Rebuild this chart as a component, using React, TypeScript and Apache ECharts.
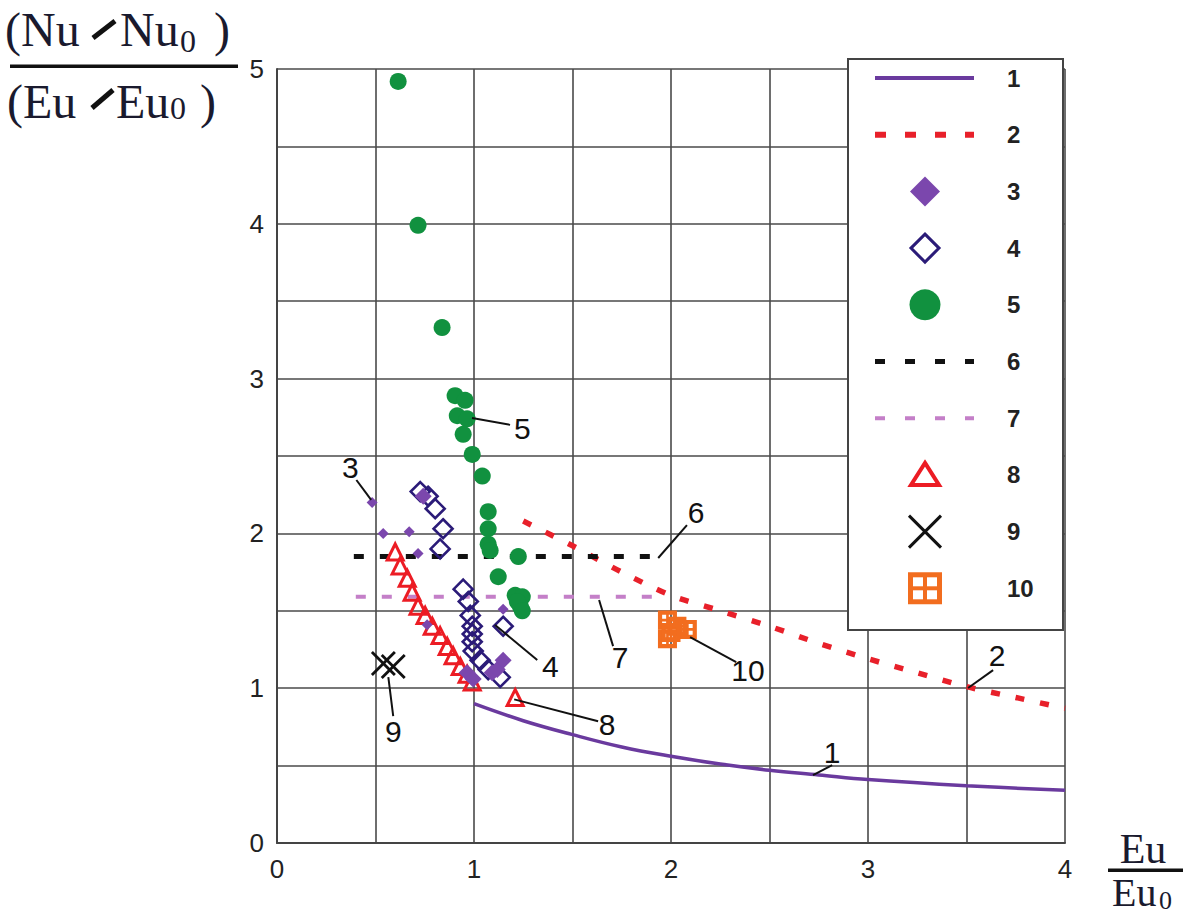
import React, { useEffect, useRef } from 'react';
import * as echarts from 'echarts';

const xTickLabels = [0, 1, 2, 3, 4];
const yTickLabels = [0, 1, 2, 3, 4, 5];

const line1Points = [[1.0, 0.9], [1.25, 0.79], [1.5, 0.7], [1.75, 0.62], [2.0, 0.56], [2.25, 0.51], [2.5, 0.47], [2.75, 0.44], [3.0, 0.41], [3.5, 0.37], [4.0, 0.34]];
const line2Points = [[1.25, 2.08], [1.5, 1.92], [1.75, 1.75], [2.0, 1.6], [2.25, 1.5], [2.5, 1.4], [2.75, 1.29], [3.0, 1.19], [3.25, 1.1], [3.5, 1.01], [3.75, 0.94], [4.0, 0.87]];
const series3Small = [[0.483, 2.2], [0.539, 2.0], [0.671, 2.01], [0.716, 1.87], [0.762, 1.41], [1.148, 1.51]];
const series3Large = [[0.742, 2.24], [0.965, 1.1], [0.996, 1.06], [1.092, 1.1], [1.118, 1.12], [1.148, 1.18]];
const series4Points = [[0.727, 2.27], [0.767, 2.24], [0.803, 2.16], [0.843, 2.03], [0.828, 1.9], [0.945, 1.64], [0.971, 1.56], [0.981, 1.47], [0.991, 1.4], [0.991, 1.35], [0.991, 1.3], [0.996, 1.24], [1.031, 1.18], [1.072, 1.12], [1.133, 1.07], [1.148, 1.4]];
const series5Points = [[0.615, 4.92], [0.716, 3.99], [0.838, 3.33], [0.904, 2.89], [0.955, 2.86], [0.915, 2.76], [0.965, 2.74], [0.945, 2.64], [0.991, 2.51], [1.042, 2.37], [1.072, 2.14], [1.072, 2.03], [1.072, 1.93], [1.082, 1.89], [1.225, 1.85], [1.123, 1.72], [1.209, 1.6], [1.245, 1.59], [1.235, 1.53], [1.22, 1.56], [1.245, 1.5]];
const line6Points = [[0.39, 1.85], [1.94, 1.85]];
const line7Points = [[0.4, 1.59], [1.93, 1.59]];
const series8Points = [[0.6, 1.88], [0.625, 1.79], [0.661, 1.71], [0.686, 1.62], [0.716, 1.53], [0.752, 1.47], [0.788, 1.4], [0.828, 1.34], [0.864, 1.27], [0.894, 1.21], [0.93, 1.14], [0.965, 1.09], [0.991, 1.04], [1.209, 0.94]];
const series9Points = [[0.54, 1.16], [0.59, 1.14]];
const series10Points = [[1.982, 1.44], [1.982, 1.32], [2.083, 1.38], [2.03, 1.4], [2.0, 1.36]];
const legendLabels = ['1', '2', '3', '4', '5', '6', '7', '8', '9', '10'];

// callout labels: text position and pointer line, in data coordinates
const callouts = [
  { text: '3', at: [0.372, 2.427], from: [0.403, 2.345], to: [0.478, 2.216] },
  { text: '5', at: [1.245, 2.68], from: [0.99, 2.746], to: [1.183, 2.701] },
  { text: '6', at: [2.127, 2.137], from: [1.935, 1.841], to: [2.081, 2.054] },
  { text: '7', at: [1.742, 1.201], from: [1.635, 1.57], to: [1.706, 1.272] },
  { text: '4', at: [1.387, 1.143], from: [1.107, 1.408], to: [1.321, 1.182] },
  { text: '10', at: [2.391, 1.117], from: [2.097, 1.33], to: [2.331, 1.169] },
  { text: '2', at: [3.655, 1.214], from: [3.508, 1.001], to: [3.635, 1.117] },
  { text: '8', at: [1.676, 0.768], from: [1.204, 0.928], to: [1.63, 0.786] },
  { text: '1', at: [2.818, 0.587], from: [2.721, 0.438], to: [2.818, 0.503] },
  { text: '9', at: [0.59, 0.723], from: [0.565, 1.072], to: [0.59, 0.82] },
];

const C1 = '#6a3a9e';
const C2 = '#e8202a';
const C3 = '#7b47ad';
const C4 = '#2b1b78';
const C5 = '#11913f';
const C6 = '#111111';
const C7 = '#c47fc8';
const C8 = '#ec1c24';
const C9 = '#111111';
const C10 = '#f26d1f';

const SQUARE_PATH = 'path://M0 0H10V10H0Z M2.2 2.2V4.3H4.3V2.2Z M5.7 2.2V4.3H7.8V2.2Z M2.2 5.7V7.8H4.3V5.7Z M5.7 5.7V7.8H7.8V5.7Z';
const CROSS_PATH = 'path://M0 0.8L0.8 0L5 4.2L9.2 0L10 0.8L5.8 5L10 9.2L9.2 10L5 5.8L0.8 10L0 9.2L4.2 5Z';

const SANS = '"Liberation Sans", Arial, sans-serif';
const SERIF = '"Liberation Serif", "Times New Roman", serif';
const TXT = '#1a1a2e';

function txt(text: string, x: number, y: number, size: number, opts: any = {}) {
  const align = opts.align || 'left';
  return {
    type: 'text',
    x,
    y,
    z: opts.z ?? 60,
    style: {
      text,
      fontSize: size,
      fontFamily: opts.family || SANS,
      fontWeight: opts.weight || 'normal',
      fill: opts.fill || TXT,
      align,
      textAlign: align,
      verticalAlign: 'middle',
      textVerticalAlign: 'middle',
    },
  };
}

function buildStaticGraphics() {
  const g: any[] = [];
  // y title fraction
  g.push(txt('(Nu', 5, 29, 48, { family: SERIF }));
  g.push(txt('Nu', 120, 29, 48, { family: SERIF }));
  g.push(txt('0', 180, 41, 32, { family: SERIF }));
  g.push(txt(')', 214, 29, 48, { family: SERIF }));
  g.push({ type: 'line', z: 60, shape: { x1: 93, y1: 38, x2: 115, y2: 21 }, style: { stroke: '#111', lineWidth: 5 } });
  g.push({ type: 'rect', z: 60, shape: { x: 10, y: 64.5, width: 228, height: 3.5 }, style: { fill: '#111' } });
  g.push(txt('(Eu', 7, 101, 48, { family: SERIF }));
  g.push(txt('Eu', 116, 101, 48, { family: SERIF }));
  g.push(txt('0', 170, 108, 32, { family: SERIF }));
  g.push(txt(')', 200, 101, 48, { family: SERIF }));
  g.push({ type: 'line', z: 60, shape: { x1: 92, y1: 108, x2: 113, y2: 90 }, style: { stroke: '#111', lineWidth: 5 } });
  // x title fraction
  g.push(txt('Eu', 1143, 849, 42, { family: SERIF, align: 'center' }));
  g.push({ type: 'rect', z: 60, shape: { x: 1108, y: 868.5, width: 75, height: 3.5 }, style: { fill: '#111' } });
  g.push(txt('Eu', 1112, 892, 40, { family: SERIF }));
  g.push(txt('0', 1159, 900, 26, { family: SERIF }));

  // legend
  const L = 848, T = 59, W = 215, H = 571;
  g.push({ type: 'rect', z: 50, shape: { x: L, y: T, width: W, height: H }, style: { fill: '#ffffff', stroke: '#444', lineWidth: 2 } });
  const cx = 925;
  const rowY = (i: number) => 78 + 56.7 * i;
  const lineItem = (i: number, color: string, width: number, dash?: number[]) => ({
    type: 'line', z: 52,
    shape: { x1: 875, y1: rowY(i), x2: 974, y2: rowY(i) },
    style: { stroke: color, lineWidth: width, lineDash: dash, lineCap: 'butt' },
  });
  g.push(lineItem(0, C1, 4));
  g.push(lineItem(1, C2, 6, [11, 19]));
  let y = rowY(2);
  g.push({ type: 'polygon', z: 52, shape: { points: [[cx, y - 15], [cx + 15, y], [cx, y + 15], [cx - 15, y]] }, style: { fill: C3 } });
  y = rowY(3);
  g.push({ type: 'polygon', z: 52, shape: { points: [[cx, y - 14], [cx + 14, y], [cx, y + 14], [cx - 14, y]] }, style: { fill: '#fff', stroke: C4, lineWidth: 3 } });
  y = rowY(4);
  g.push({ type: 'circle', z: 52, shape: { cx, cy: y, r: 15.5 }, style: { fill: C5 } });
  g.push(lineItem(5, C6, 5, [10, 20]));
  g.push(lineItem(6, C7, 4, [10, 20]));
  y = rowY(7);
  g.push({ type: 'polygon', z: 52, shape: { points: [[cx, y - 12], [cx + 14, y + 10], [cx - 14, y + 10]] }, style: { fill: '#fff', stroke: C8, lineWidth: 4, lineJoin: 'miter' } });
  y = rowY(8);
  g.push({ type: 'line', z: 52, shape: { x1: cx - 16, y1: y - 16, x2: cx + 16, y2: y + 16 }, style: { stroke: C9, lineWidth: 3 } });
  g.push({ type: 'line', z: 52, shape: { x1: cx + 16, y1: y - 16, x2: cx - 16, y2: y + 16 }, style: { stroke: C9, lineWidth: 3 } });
  y = rowY(9);
  g.push({ type: 'rect', z: 52, shape: { x: cx - 17, y: y - 16, width: 34, height: 32 }, style: { fill: C10 } });
  [[cx - 12, y - 11], [cx + 2, y - 11], [cx - 12, y + 2], [cx + 2, y + 2]].forEach(([hx, hy]) => {
    g.push({ type: 'rect', z: 53, shape: { x: hx, y: hy, width: 10, height: 9 }, style: { fill: '#fff' } });
  });
  legendLabels.forEach((lab, i) => {
    g.push(txt(lab, 1007, rowY(i), 24, { weight: 'bold', fill: '#222', z: 53 }));
  });
  return g;
}

const lineSeries = (name: string, data: number[][], color: string, width: number, dash: any, smooth: any) => ({
  type: 'line', name, data, showSymbol: false, symbol: 'none', smooth, silent: true, z: 3,
  lineStyle: { color, width, type: dash, cap: 'butt' },
});

export default function App() {
  const ref = useRef<HTMLDivElement>(null);
  useEffect(() => {
    const chart = echarts.init(ref.current!, null, { renderer: 'svg' });
    const axisCommon = {
      type: 'value',
      interval: 0.5,
      axisLine: { show: true, lineStyle: { color: '#444', width: 2 } },
      axisTick: { show: false },
      splitLine: { show: true, lineStyle: { color: '#4a4a4a', width: 1.6 } },
    };
    const option: any = {
      animation: false,
      backgroundColor: '#ffffff',
      grid: { left: 277, right: 131, top: 69, bottom: 76, containLabel: false },
      xAxis: {
        ...axisCommon,
        min: 0,
        max: 4,
        axisLabel: {
          color: '#222', fontSize: 26, fontFamily: SANS, margin: 13,
          formatter: (v: number) => (xTickLabels.includes(v) ? String(v) : ''),
        },
      },
      yAxis: {
        ...axisCommon,
        min: 0,
        max: 5,
        axisLabel: {
          color: '#222', fontSize: 26, fontFamily: SANS, margin: 13,
          formatter: (v: number) => (yTickLabels.includes(v) ? String(v) : ''),
        },
      },
      series: [
        lineSeries('1', line1Points, C1, 3.5, 'solid', 0.4),
        lineSeries('2', line2Points, C2, 5.5, [9, 16], 0.3),
        lineSeries('6', line6Points, C6, 5, [10, 16], false),
        lineSeries('7', line7Points, C7, 4, [10, 16], false),
        { type: 'scatter', name: '8', data: series8Points, symbol: 'triangle', symbolSize: 16, z: 4, silent: true,
          itemStyle: { color: 'transparent', borderColor: C8, borderWidth: 3, opacity: 1 } },
        { type: 'scatter', name: '4', data: series4Points, symbol: 'diamond', symbolSize: 19, z: 5, silent: true,
          itemStyle: { color: 'transparent', borderColor: C4, borderWidth: 2.6, opacity: 1 } },
        { type: 'scatter', name: '3', data: series3Small, symbol: 'diamond', symbolSize: 11, z: 6, silent: true,
          itemStyle: { color: C3, opacity: 1 } },
        { type: 'scatter', name: '3', data: series3Large, symbol: 'diamond', symbolSize: 17, z: 6, silent: true,
          itemStyle: { color: C3, opacity: 1 } },
        { type: 'scatter', name: '5', data: series5Points, symbol: 'circle', symbolSize: 17, z: 7, silent: true,
          itemStyle: { color: C5, opacity: 1 } },
        { type: 'scatter', name: '9', data: series9Points, symbol: CROSS_PATH, symbolSize: 25, z: 7, silent: true,
          itemStyle: { color: C9, opacity: 1 } },
        { type: 'scatter', name: '10', data: series10Points, symbol: SQUARE_PATH, symbolSize: 19, z: 7, silent: true,
          itemStyle: { color: C10, opacity: 1 } },
      ],
    };
    chart.setOption(option);
    const px = (p: number[]) => chart.convertToPixel({ gridIndex: 0 }, p) as number[];
    const g = buildStaticGraphics();
    callouts.forEach((c) => {
      const a = px(c.from);
      const b = px(c.to);
      const t = px(c.at);
      g.push({ type: 'line', z: 40, shape: { x1: a[0], y1: a[1], x2: b[0], y2: b[1] }, style: { stroke: '#111', lineWidth: 2 } });
      g.push(txt(c.text, t[0], t[1], 30, { align: 'center', fill: '#111', z: 40 }));
    });
    chart.setOption({ graphic: { elements: g } });
    return () => chart.dispose();
  }, []);
  return (
    <div
      ref={ref}
      style={{ position: 'fixed', left: 0, top: 0, width: 1196, height: 919, background: '#fff' }}
    />
  );
}
